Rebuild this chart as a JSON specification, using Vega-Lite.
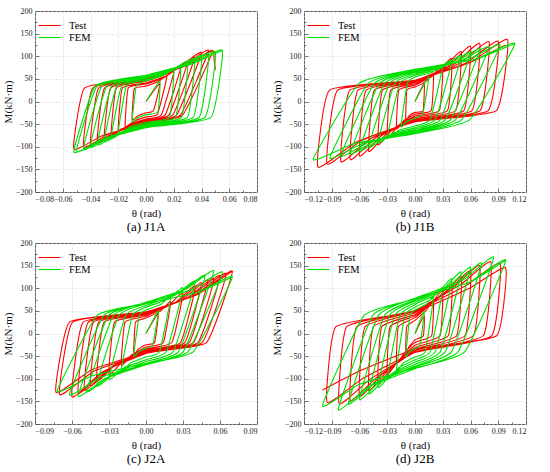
{
  "$schema": "https://vega.github.io/schema/vega-lite/v6.json",
  "background": "white",
  "padding": {"left": 1, "top": 6, "right": 4, "bottom": 2},
  "datasets": {
    "aT": [{"x":0,"y":0},{"x":0.01,"y":40},{"x":0.0055,"y":-20},{"x":0,"y":-25},{"x":-0.006,"y":-32},{"x":-0.01,"y":-40},{"x":-0.0085,"y":28},{"x":0,"y":34},{"x":0.009,"y":44},
      {"x":0.015,"y":55},{"x":0.0083,"y":-28},{"x":0,"y":-34},{"x":-0.009,"y":-44},{"x":-0.015,"y":-55},{"x":-0.0128,"y":30},{"x":0,"y":39},{"x":0.012,"y":51},
      {"x":0.02,"y":65},{"x":0.011,"y":-30},{"x":0,"y":-39},{"x":-0.012,"y":-51},{"x":-0.02,"y":-65},{"x":-0.017,"y":30},{"x":0,"y":41},{"x":0.015,"y":57},
      {"x":0.025,"y":75},{"x":0.0138,"y":-30},{"x":0,"y":-41},{"x":-0.015,"y":-57},{"x":-0.025,"y":-75},{"x":-0.0213,"y":30},{"x":0,"y":45},{"x":0.018,"y":65},
      {"x":0.03,"y":88},{"x":0.0165,"y":-30},{"x":0,"y":-43},{"x":-0.018,"y":-61},{"x":-0.03,"y":-82},{"x":-0.0255,"y":30},{"x":0,"y":47},{"x":0.021,"y":70},
      {"x":0.035,"y":97},{"x":0.0193,"y":-30},{"x":0,"y":-45},{"x":-0.021,"y":-66},{"x":-0.035,"y":-90},{"x":-0.0298,"y":30},{"x":0,"y":50},{"x":0.024,"y":77},
      {"x":0.04,"y":108},{"x":0.022,"y":-30},{"x":0,"y":-47},{"x":-0.024,"y":-70},{"x":-0.04,"y":-96},{"x":-0.034,"y":30},{"x":0,"y":51},{"x":0.027,"y":80},
      {"x":0.045,"y":113},{"x":0.0248,"y":-30},{"x":0,"y":-48},{"x":-0.027,"y":-72},{"x":-0.045,"y":-100},{"x":-0.0383,"y":30},{"x":0,"y":51},{"x":0.0288,"y":79},
      {"x":0.048,"y":112},{"x":0.0264,"y":-30},{"x":0,"y":-49},{"x":-0.0312,"y":-75},{"x":-0.052,"y":-105},{"x":-0.0442,"y":30},{"x":0,"y":51},{"x":0.0288,"y":79},
      {"x":0.048,"y":112},{"x":0.049,"y":95},{"x":0.05,"y":70}],
    "aF": [{"x":0,"y":0},{"x":0.01,"y":45},{"x":0.0085,"y":-23},{"x":0,"y":-29},{"x":-0.006,"y":-36},{"x":-0.01,"y":-45},{"x":-0.007,"y":35},{"x":0,"y":46},{"x":0.012,"y":57},
      {"x":0.02,"y":70},{"x":0.017,"y":-35},{"x":0,"y":-46},{"x":-0.012,"y":-57},{"x":-0.02,"y":-70},{"x":-0.014,"y":35},{"x":0,"y":48},{"x":0.015,"y":62},
      {"x":0.025,"y":78},{"x":0.0213,"y":-35},{"x":0,"y":-49},{"x":-0.015,"y":-63},{"x":-0.025,"y":-80},{"x":-0.0175,"y":35},{"x":0,"y":51},{"x":0.018,"y":67},
      {"x":0.03,"y":87},{"x":0.0255,"y":-35},{"x":0,"y":-51},{"x":-0.018,"y":-68},{"x":-0.03,"y":-88},{"x":-0.021,"y":35},{"x":0,"y":53},{"x":0.021,"y":72},
      {"x":0.035,"y":94},{"x":0.0298,"y":-35},{"x":0,"y":-53},{"x":-0.021,"y":-72},{"x":-0.035,"y":-95},{"x":-0.0245,"y":35},{"x":0,"y":55},{"x":0.024,"y":75},
      {"x":0.04,"y":100},{"x":0.034,"y":-35},{"x":0,"y":-55},{"x":-0.024,"y":-75},{"x":-0.04,"y":-100},{"x":-0.028,"y":35},{"x":0,"y":56},{"x":0.027,"y":78},
      {"x":0.045,"y":105},{"x":0.0383,"y":-35},{"x":0,"y":-56},{"x":-0.027,"y":-78},{"x":-0.045,"y":-105},{"x":-0.0315,"y":35},{"x":0,"y":58},{"x":0.03,"y":82},
      {"x":0.05,"y":110},{"x":0.0425,"y":-35},{"x":0,"y":-58},{"x":-0.03,"y":-82},{"x":-0.05,"y":-110},{"x":-0.035,"y":35},{"x":0,"y":58},{"x":0.033,"y":83},
      {"x":0.055,"y":113},{"x":0.0468,"y":-35},{"x":0,"y":-58},{"x":-0.0312,"y":-83},{"x":-0.052,"y":-112},{"x":-0.0364,"y":35},{"x":0,"y":58},{"x":0.033,"y":83},{"x":0.055,"y":113}],
    "bT": [{"x":0,"y":0},{"x":0.01,"y":40},{"x":0.0088,"y":-20},{"x":0,"y":-24},{"x":-0.006,"y":-31},{"x":-0.01,"y":-40},{"x":-0.0088,"y":25},{"x":0,"y":32},{"x":0.012,"y":44},
      {"x":0.02,"y":60},{"x":0.0176,"y":-20},{"x":0,"y":-28},{"x":-0.012,"y":-42},{"x":-0.02,"y":-60},{"x":-0.0176,"y":25},{"x":0,"y":36},{"x":0.018,"y":55},
      {"x":0.03,"y":80},{"x":0.0264,"y":-20},{"x":0,"y":-32},{"x":-0.018,"y":-53},{"x":-0.03,"y":-80},{"x":-0.0264,"y":25},{"x":0,"y":39},{"x":0.024,"y":64},
      {"x":0.04,"y":95},{"x":0.0352,"y":-20},{"x":0,"y":-35},{"x":-0.024,"y":-61},{"x":-0.04,"y":-95},{"x":-0.0352,"y":25},{"x":0,"y":42},{"x":0.03,"y":72},
      {"x":0.05,"y":110},{"x":0.044,"y":-20},{"x":0,"y":-38},{"x":-0.03,"y":-70},{"x":-0.05,"y":-110},{"x":-0.044,"y":25},{"x":0,"y":44},{"x":0.036,"y":78},
      {"x":0.06,"y":122},{"x":0.0528,"y":-20},{"x":0,"y":-40},{"x":-0.036,"y":-75},{"x":-0.06,"y":-120},{"x":-0.0528,"y":25},{"x":0,"y":46},{"x":0.042,"y":82},
      {"x":0.07,"y":128},{"x":0.0616,"y":-20},{"x":0,"y":-42},{"x":-0.042,"y":-79},{"x":-0.07,"y":-128},{"x":-0.0616,"y":25},{"x":0,"y":46},{"x":0.048,"y":84},
      {"x":0.08,"y":132},{"x":0.0704,"y":-20},{"x":0,"y":-43},{"x":-0.048,"y":-82},{"x":-0.08,"y":-133},{"x":-0.0704,"y":25},{"x":0,"y":47},{"x":0.054,"y":84},
      {"x":0.09,"y":133},{"x":0.0792,"y":-20},{"x":0,"y":-44},{"x":-0.057,"y":-85},{"x":-0.095,"y":-138},{"x":-0.0836,"y":25},{"x":0,"y":47},{"x":0.06,"y":87},
      {"x":0.1,"y":137},{"x":0.088,"y":-20},{"x":0,"y":-45},{"x":-0.063,"y":-89},{"x":-0.105,"y":-145},{"x":-0.0924,"y":25},{"x":0,"y":47},{"x":0.06,"y":87},{"x":0.098,"y":125}],
    "bF": [{"x":0,"y":0},{"x":0.015,"y":55},{"x":0.0083,"y":-28},{"x":0,"y":-37},{"x":-0.009,"y":-44},{"x":-0.015,"y":-55},{"x":-0.0083,"y":40},{"x":0,"y":54},{"x":0.018,"y":64},
      {"x":0.03,"y":80},{"x":0.0165,"y":-40},{"x":0,"y":-54},{"x":-0.018,"y":-64},{"x":-0.03,"y":-80},{"x":-0.0165,"y":40},{"x":0,"y":58},{"x":0.024,"y":70},
      {"x":0.04,"y":90},{"x":0.022,"y":-40},{"x":0,"y":-58},{"x":-0.024,"y":-70},{"x":-0.04,"y":-90},{"x":-0.022,"y":40},{"x":0,"y":61},{"x":0.03,"y":76},
      {"x":0.05,"y":100},{"x":0.0275,"y":-40},{"x":0,"y":-61},{"x":-0.03,"y":-76},{"x":-0.05,"y":-100},{"x":-0.0275,"y":40},{"x":0,"y":64},{"x":0.036,"y":81},
      {"x":0.06,"y":108},{"x":0.033,"y":-40},{"x":0,"y":-64},{"x":-0.036,"y":-81},{"x":-0.06,"y":-108},{"x":-0.033,"y":40},{"x":0,"y":66},{"x":0.042,"y":85},
      {"x":0.07,"y":115},{"x":0.0385,"y":-40},{"x":0,"y":-66},{"x":-0.042,"y":-85},{"x":-0.07,"y":-115},{"x":-0.0385,"y":40},{"x":0,"y":68},{"x":0.048,"y":88},
      {"x":0.08,"y":120},{"x":0.044,"y":-40},{"x":0,"y":-68},{"x":-0.048,"y":-88},{"x":-0.08,"y":-120},{"x":-0.044,"y":40},{"x":0,"y":70},{"x":0.0552,"y":91},
      {"x":0.092,"y":125},{"x":0.0506,"y":-40},{"x":0,"y":-70},{"x":-0.0552,"y":-91},{"x":-0.092,"y":-125},{"x":-0.0506,"y":40},{"x":0,"y":71},{"x":0.0648,"y":93},
      {"x":0.108,"y":128},{"x":0.0594,"y":-40},{"x":0,"y":-71},{"x":-0.066,"y":-93},{"x":-0.11,"y":-128},{"x":-0.0605,"y":40},{"x":0,"y":71},{"x":0.0648,"y":93},{"x":0.108,"y":128}],
    "cT": [{"x":0,"y":0},{"x":0.01,"y":45},{"x":0.007,"y":-20},{"x":0,"y":-25},{"x":-0.006,"y":-34},{"x":-0.01,"y":-45},{"x":-0.0085,"y":25},{"x":0,"y":34},{"x":0.012,"y":50},
      {"x":0.02,"y":70},{"x":0.014,"y":-20},{"x":0,"y":-30},{"x":-0.012,"y":-48},{"x":-0.02,"y":-70},{"x":-0.017,"y":25},{"x":0,"y":38},{"x":0.018,"y":61},
      {"x":0.03,"y":90},{"x":0.021,"y":-20},{"x":0,"y":-34},{"x":-0.018,"y":-59},{"x":-0.03,"y":-90},{"x":-0.0255,"y":25},{"x":0,"y":41},{"x":0.024,"y":69},
      {"x":0.04,"y":105},{"x":0.028,"y":-20},{"x":0,"y":-37},{"x":-0.024,"y":-67},{"x":-0.04,"y":-105},{"x":-0.034,"y":25},{"x":0,"y":42},{"x":0.027,"y":73},
      {"x":0.045,"y":112},{"x":0.0315,"y":-20},{"x":0,"y":-39},{"x":-0.027,"y":-72},{"x":-0.045,"y":-115},{"x":-0.0383,"y":25},{"x":0,"y":44},{"x":0.03,"y":76},
      {"x":0.05,"y":118},{"x":0.035,"y":-20},{"x":0,"y":-41},{"x":-0.03,"y":-78},{"x":-0.05,"y":-125},{"x":-0.0425,"y":25},{"x":0,"y":44},{"x":0.033,"y":78},
      {"x":0.055,"y":122},{"x":0.0385,"y":-20},{"x":0,"y":-42},{"x":-0.033,"y":-82},{"x":-0.055,"y":-132},{"x":-0.0468,"y":25},{"x":0,"y":46},{"x":0.036,"y":82},
      {"x":0.06,"y":128},{"x":0.042,"y":-20},{"x":0,"y":-44},{"x":-0.036,"y":-86},{"x":-0.06,"y":-140},{"x":-0.051,"y":25},{"x":0,"y":47},{"x":0.039,"y":84},
      {"x":0.065,"y":133},{"x":0.0455,"y":-20},{"x":0,"y":-43},{"x":-0.042,"y":-83},{"x":-0.07,"y":-135},{"x":-0.0595,"y":25},{"x":0,"y":48},{"x":0.042,"y":87},
      {"x":0.07,"y":138},{"x":0.049,"y":-20},{"x":0,"y":-42},{"x":-0.0438,"y":-80},{"x":-0.073,"y":-130},{"x":-0.062,"y":25},{"x":0,"y":48},{"x":0.042,"y":87},{"x":0.07,"y":138}],
    "cF": [{"x":0,"y":0},{"x":0.01,"y":50},{"x":0.0055,"y":-25},{"x":0,"y":-33},{"x":-0.006,"y":-40},{"x":-0.01,"y":-50},{"x":-0.0055,"y":40},{"x":0,"y":52},{"x":0.012,"y":64},
      {"x":0.02,"y":80},{"x":0.011,"y":-40},{"x":0,"y":-52},{"x":-0.012,"y":-64},{"x":-0.02,"y":-80},{"x":-0.011,"y":40},{"x":0,"y":58},{"x":0.018,"y":76},
      {"x":0.03,"y":100},{"x":0.0165,"y":-40},{"x":0,"y":-58},{"x":-0.018,"y":-76},{"x":-0.03,"y":-100},{"x":-0.0165,"y":40},{"x":0,"y":62},{"x":0.024,"y":85},
      {"x":0.04,"y":115},{"x":0.022,"y":-40},{"x":0,"y":-62},{"x":-0.024,"y":-85},{"x":-0.04,"y":-115},{"x":-0.022,"y":40},{"x":0,"y":66},{"x":0.0288,"y":93},
      {"x":0.048,"y":128},{"x":0.0264,"y":-40},{"x":0,"y":-66},{"x":-0.0288,"y":-93},{"x":-0.048,"y":-128},{"x":-0.0264,"y":40},{"x":0,"y":69},{"x":0.033,"y":99},
      {"x":0.055,"y":138},{"x":0.0303,"y":-40},{"x":0,"y":-69},{"x":-0.033,"y":-99},{"x":-0.055,"y":-138},{"x":-0.0303,"y":40},{"x":0,"y":68},{"x":0.0372,"y":97},
      {"x":0.062,"y":135},{"x":0.0341,"y":-40},{"x":0,"y":-68},{"x":-0.0372,"y":-97},{"x":-0.062,"y":-135},{"x":-0.0341,"y":40},{"x":0,"y":66},{"x":0.042,"y":91},
      {"x":0.07,"y":125},{"x":0.0385,"y":-40},{"x":0,"y":-66},{"x":-0.0432,"y":-93},{"x":-0.072,"y":-128},{"x":-0.0396,"y":40},{"x":0,"y":66},{"x":0.042,"y":91},{"x":0.07,"y":125}],
    "dT": [{"x":0,"y":0},{"x":0.01,"y":40},{"x":0.009,"y":-5},{"x":0,"y":-14},{"x":-0.006,"y":-28},{"x":-0.01,"y":-40},{"x":-0.009,"y":15},{"x":0,"y":29},{"x":0.012,"y":51},
      {"x":0.02,"y":70},{"x":0.018,"y":-5},{"x":0,"y":-20},{"x":-0.012,"y":-44},{"x":-0.02,"y":-65},{"x":-0.018,"y":15},{"x":0,"y":35},{"x":0.018,"y":67},
      {"x":0.03,"y":95},{"x":0.027,"y":-5},{"x":0,"y":-26},{"x":-0.018,"y":-60},{"x":-0.03,"y":-90},{"x":-0.027,"y":15},{"x":0,"y":39},{"x":0.024,"y":77},
      {"x":0.04,"y":110},{"x":0.036,"y":-5},{"x":0,"y":-31},{"x":-0.024,"y":-73},{"x":-0.04,"y":-110},{"x":-0.036,"y":15},{"x":0,"y":42},{"x":0.03,"y":86},
      {"x":0.05,"y":125},{"x":0.045,"y":-5},{"x":0,"y":-35},{"x":-0.03,"y":-83},{"x":-0.05,"y":-125},{"x":-0.045,"y":15},{"x":0,"y":46},{"x":0.036,"y":95},
      {"x":0.06,"y":138},{"x":0.054,"y":-5},{"x":0,"y":-38},{"x":-0.036,"y":-91},{"x":-0.06,"y":-138},{"x":-0.054,"y":15},{"x":0,"y":49},{"x":0.042,"y":103},
      {"x":0.07,"y":150},{"x":0.063,"y":-5},{"x":0,"y":-41},{"x":-0.042,"y":-98},{"x":-0.07,"y":-148},{"x":-0.063,"y":15},{"x":0,"y":51},{"x":0.0492,"y":108},
      {"x":0.082,"y":158},{"x":0.0738,"y":-5},{"x":0,"y":-42},{"x":-0.0492,"y":-102},{"x":-0.082,"y":-155},{"x":-0.0738,"y":15},{"x":0,"y":50},{"x":0.0552,"y":106},
      {"x":0.092,"y":155},{"x":0.0828,"y":-5},{"x":0,"y":-42},{"x":-0.057,"y":-100},{"x":-0.095,"y":-152},{"x":-0.0855,"y":15},{"x":0,"y":48},{"x":0.0588,"y":100},
      {"x":0.098,"y":145},{"x":0.0882,"y":-5},{"x":0,"y":-35},{"x":-0.06,"y":-83},{"x":-0.1,"y":-125}],
    "dF": [{"x":0,"y":0},{"x":0.01,"y":50},{"x":0.0055,"y":-25},{"x":0,"y":-33},{"x":-0.006,"y":-40},{"x":-0.01,"y":-50},{"x":-0.0055,"y":40},{"x":0,"y":52},{"x":0.012,"y":64},
      {"x":0.02,"y":80},{"x":0.011,"y":-40},{"x":0,"y":-52},{"x":-0.012,"y":-64},{"x":-0.02,"y":-80},{"x":-0.011,"y":40},{"x":0,"y":58},{"x":0.018,"y":76},
      {"x":0.03,"y":100},{"x":0.0165,"y":-40},{"x":0,"y":-58},{"x":-0.018,"y":-76},{"x":-0.03,"y":-100},{"x":-0.0165,"y":40},{"x":0,"y":64},{"x":0.024,"y":88},
      {"x":0.04,"y":120},{"x":0.022,"y":-40},{"x":0,"y":-63},{"x":-0.024,"y":-87},{"x":-0.04,"y":-118},{"x":-0.022,"y":40},{"x":0,"y":68},{"x":0.03,"y":97},
      {"x":0.05,"y":135},{"x":0.0275,"y":-40},{"x":0,"y":-68},{"x":-0.03,"y":-95},{"x":-0.05,"y":-132},{"x":-0.0275,"y":40},{"x":0,"y":72},{"x":0.036,"y":103},
      {"x":0.06,"y":145},{"x":0.033,"y":-40},{"x":0,"y":-72},{"x":-0.036,"y":-103},{"x":-0.06,"y":-145},{"x":-0.033,"y":40},{"x":0,"y":74},{"x":0.0432,"y":109},
      {"x":0.072,"y":155},{"x":0.0396,"y":-40},{"x":0,"y":-74},{"x":-0.0432,"y":-109},{"x":-0.072,"y":-155},{"x":-0.0396,"y":40},{"x":0,"y":78},{"x":0.051,"y":117},
      {"x":0.085,"y":168},{"x":0.0468,"y":-40},{"x":0,"y":-78},{"x":-0.0498,"y":-117},{"x":-0.083,"y":-168},{"x":-0.0457,"y":40},{"x":0,"y":77},{"x":0.0588,"y":113},
      {"x":0.098,"y":162},{"x":0.0539,"y":-40},{"x":0,"y":-76},{"x":-0.06,"y":-112},{"x":-0.1,"y":-160},{"x":-0.055,"y":40},{"x":0,"y":76},{"x":0.0588,"y":113},{"x":0.098,"y":162}]
  },
  "columns": 2,
  "spacing": {"row": 3, "column": 12},
  "resolve": {"scale": {"color": "independent"}, "legend": {"color": "independent"}},
  "concat": [
    {
      "width": 222, "height": 181,
      "title": {"text": "(a) J1A"},
      "encoding": {
        "x": {"field": "x", "type": "quantitative", "scale": {"domain": [-0.08, 0.08], "nice": false, "zero": false},
              "axis": {"values": [-0.08, -0.07, -0.06, -0.05, -0.04, -0.03, -0.02, -0.01, 0, 0.01, 0.02, 0.03, 0.04, 0.05, 0.06, 0.07, 0.08], "format": ".2f", "title": "θ (rad)",
                       "labelExpr": "abs(round(datum.value*100)) % 2 == 1 ? '' : datum.label",
                       "tickSize": {"condition": {"test": "abs(round(datum.value*100)) % 2 == 1", "value": -2}, "value": -4},
                       "gridOpacity": {"condition": {"test": "abs(round(datum.value*100)) % 2 == 1", "value": 0}, "value": 1}}},
        "y": {"field": "y", "type": "quantitative", "scale": {"domain": [-200, 200], "nice": false},
              "axis": {"values": [-200, -175, -150, -125, -100, -75, -50, -25, 0, 25, 50, 75, 100, 125, 150, 175, 200], "title": "M(kN·m)",
                       "labelExpr": "abs(datum.value) % 50 != 0 ? '' : datum.label",
                       "tickSize": {"condition": {"test": "abs(datum.value) % 50 != 0", "value": -2}, "value": -4},
                       "gridOpacity": {"condition": {"test": "abs(datum.value) % 50 != 0", "value": 0}, "value": 1}}}
      },
      "layer": [
        {"data": {"name": "aT"}, "mark": {"type": "line"},
         "encoding": {"color": {"datum": "Test", "scale": {"domain": ["Test", "FEM"], "range": ["#ff0000", "#00e000"]}, "legend": {"title": null}}, "order": {"value": null}}},
        {"data": {"name": "aF"}, "mark": {"type": "line"},
         "encoding": {"color": {"datum": "FEM"}, "order": {"value": null}}}
      ]
    },
    {
      "width": 222, "height": 181,
      "title": {"text": "(b) J1B"},
      "encoding": {
        "x": {"field": "x", "type": "quantitative", "scale": {"domain": [-0.12, 0.12], "nice": false, "zero": false},
              "axis": {"values": [-0.12, -0.105, -0.09, -0.075, -0.06, -0.045, -0.03, -0.015, 0, 0.015, 0.03, 0.045, 0.06, 0.075, 0.09, 0.105, 0.12], "format": ".2f", "title": "θ (rad)",
                       "labelExpr": "abs(round(datum.value*1000)) % 30 != 0 ? '' : datum.label",
                       "tickSize": {"condition": {"test": "abs(round(datum.value*1000)) % 30 != 0", "value": -2}, "value": -4},
                       "gridOpacity": {"condition": {"test": "abs(round(datum.value*1000)) % 30 != 0", "value": 0}, "value": 1}}},
        "y": {"field": "y", "type": "quantitative", "scale": {"domain": [-200, 200], "nice": false},
              "axis": {"values": [-200, -175, -150, -125, -100, -75, -50, -25, 0, 25, 50, 75, 100, 125, 150, 175, 200], "title": "M(kN·m)",
                       "labelExpr": "abs(datum.value) % 50 != 0 ? '' : datum.label",
                       "tickSize": {"condition": {"test": "abs(datum.value) % 50 != 0", "value": -2}, "value": -4},
                       "gridOpacity": {"condition": {"test": "abs(datum.value) % 50 != 0", "value": 0}, "value": 1}}}
      },
      "layer": [
        {"data": {"name": "bT"}, "mark": {"type": "line"},
         "encoding": {"color": {"datum": "Test", "scale": {"domain": ["Test", "FEM"], "range": ["#ff0000", "#00e000"]}, "legend": {"title": null}}, "order": {"value": null}}},
        {"data": {"name": "bF"}, "mark": {"type": "line"},
         "encoding": {"color": {"datum": "FEM"}, "order": {"value": null}}}
      ]
    },
    {
      "width": 222, "height": 181,
      "title": {"text": "(c) J2A"},
      "encoding": {
        "x": {"field": "x", "type": "quantitative", "scale": {"domain": [-0.09, 0.09], "nice": false, "zero": false},
              "axis": {"values": [-0.09, -0.075, -0.06, -0.045, -0.03, -0.015, 0, 0.015, 0.03, 0.045, 0.06, 0.075, 0.09], "format": ".2f", "title": "θ (rad)",
                       "labelExpr": "abs(round(datum.value*1000)) % 30 != 0 ? '' : datum.label",
                       "tickSize": {"condition": {"test": "abs(round(datum.value*1000)) % 30 != 0", "value": -2}, "value": -4},
                       "gridOpacity": {"condition": {"test": "abs(round(datum.value*1000)) % 30 != 0", "value": 0}, "value": 1}}},
        "y": {"field": "y", "type": "quantitative", "scale": {"domain": [-200, 200], "nice": false},
              "axis": {"values": [-200, -175, -150, -125, -100, -75, -50, -25, 0, 25, 50, 75, 100, 125, 150, 175, 200], "title": "M(kN·m)",
                       "labelExpr": "abs(datum.value) % 50 != 0 ? '' : datum.label",
                       "tickSize": {"condition": {"test": "abs(datum.value) % 50 != 0", "value": -2}, "value": -4},
                       "gridOpacity": {"condition": {"test": "abs(datum.value) % 50 != 0", "value": 0}, "value": 1}}}
      },
      "layer": [
        {"data": {"name": "cT"}, "mark": {"type": "line"},
         "encoding": {"color": {"datum": "Test", "scale": {"domain": ["Test", "FEM"], "range": ["#ff0000", "#00e000"]}, "legend": {"title": null}}, "order": {"value": null}}},
        {"data": {"name": "cF"}, "mark": {"type": "line"},
         "encoding": {"color": {"datum": "FEM"}, "order": {"value": null}}}
      ]
    },
    {
      "width": 222, "height": 181,
      "title": {"text": "(d) J2B"},
      "encoding": {
        "x": {"field": "x", "type": "quantitative", "scale": {"domain": [-0.12, 0.12], "nice": false, "zero": false},
              "axis": {"values": [-0.12, -0.105, -0.09, -0.075, -0.06, -0.045, -0.03, -0.015, 0, 0.015, 0.03, 0.045, 0.06, 0.075, 0.09, 0.105, 0.12], "format": ".2f", "title": "θ (rad)",
                       "labelExpr": "abs(round(datum.value*1000)) % 30 != 0 ? '' : datum.label",
                       "tickSize": {"condition": {"test": "abs(round(datum.value*1000)) % 30 != 0", "value": -2}, "value": -4},
                       "gridOpacity": {"condition": {"test": "abs(round(datum.value*1000)) % 30 != 0", "value": 0}, "value": 1}}},
        "y": {"field": "y", "type": "quantitative", "scale": {"domain": [-200, 200], "nice": false},
              "axis": {"values": [-200, -175, -150, -125, -100, -75, -50, -25, 0, 25, 50, 75, 100, 125, 150, 175, 200], "title": "M(kN·m)",
                       "labelExpr": "abs(datum.value) % 50 != 0 ? '' : datum.label",
                       "tickSize": {"condition": {"test": "abs(datum.value) % 50 != 0", "value": -2}, "value": -4},
                       "gridOpacity": {"condition": {"test": "abs(datum.value) % 50 != 0", "value": 0}, "value": 1}}}
      },
      "layer": [
        {"data": {"name": "dT"}, "mark": {"type": "line"},
         "encoding": {"color": {"datum": "Test", "scale": {"domain": ["Test", "FEM"], "range": ["#ff0000", "#00e000"]}, "legend": {"title": null}}, "order": {"value": null}}},
        {"data": {"name": "dF"}, "mark": {"type": "line"},
         "encoding": {"color": {"datum": "FEM"}, "order": {"value": null}}}
      ]
    }
  ],
  "config": {
    "font": "Liberation Serif",
    "view": {"stroke": "#555555", "strokeWidth": 1},
    "line": {"strokeWidth": 1.1, "interpolate": "cardinal", "tension": 0.6},
    "axis": {
      "labelFont": "Liberation Serif", "labelFontSize": 8, "labelColor": "#222222", "labelOverlap": false,
      "titleFont": "Liberation Serif", "titleFontSize": 11, "titleFontWeight": "normal", "titleColor": "#111111",
      "grid": true, "gridColor": "#cccccc", "gridDash": [2, 2], "gridWidth": 0.6,
      "domain": false, "tickColor": "#555555", "tickWidth": 0.8, "labelPadding": 7, "titlePadding": 2
    },
    "legend": {
      "orient": "none", "legendX": 8, "legendY": 8, "padding": 0, "symbolType": "M-2,0H2", "symbolSize": 121,
      "symbolStrokeWidth": 2, "symbolOpacity": 1, "labelFont": "Liberation Serif", "labelFontSize": 10.5, "labelColor": "#000000",
      "rowPadding": 0, "labelOffset": 13
    },
    "title": {"font": "Liberation Serif", "fontSize": 13, "fontWeight": "normal", "color": "#000000", "orient": "bottom", "offset": 3}
  }
}
